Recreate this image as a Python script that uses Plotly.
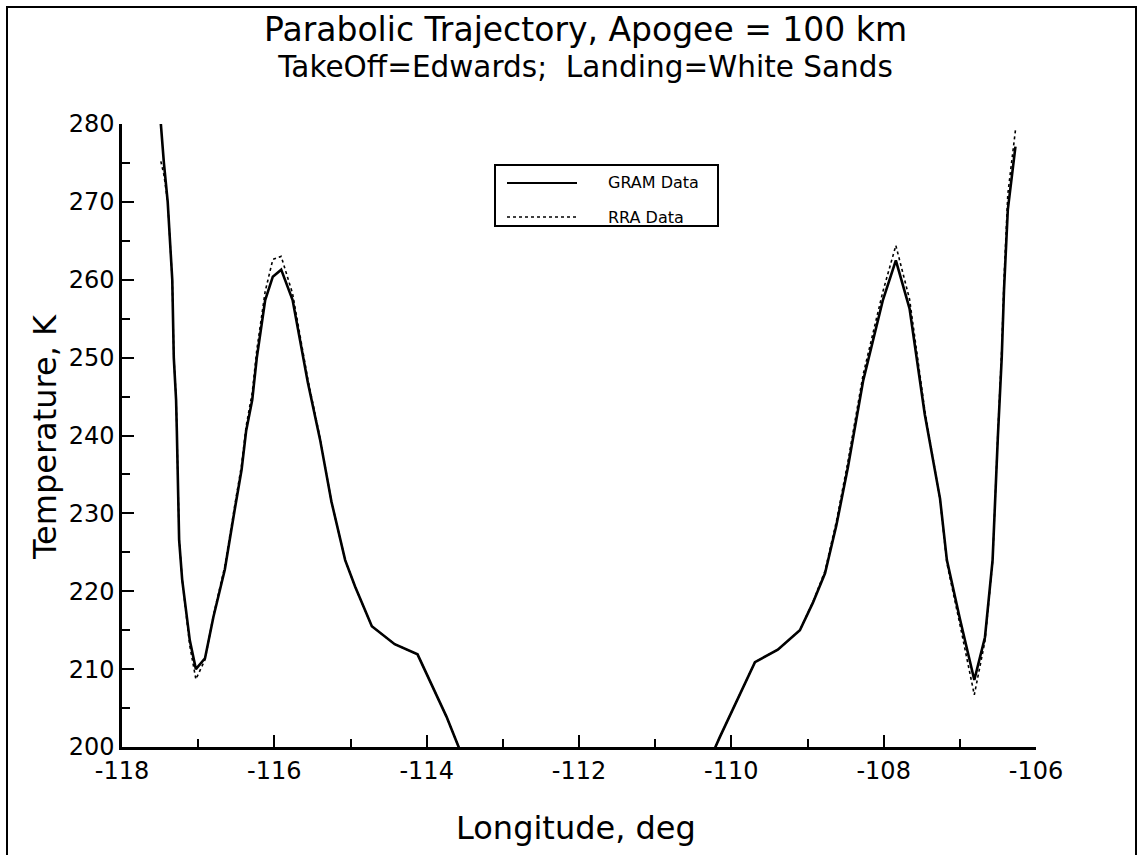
import plotly.graph_objects as go

# ---- data ----
lon_left = [-117.49, -117.45, -117.40, -117.34, -117.32, -117.29, -117.28, -117.25, -117.21,
            -117.11, -117.03, -116.91, -116.80, -116.65, -116.52, -116.43, -116.37, -116.29,
            -116.23, -116.12, -116.02, -115.91, -115.76, -115.56, -115.40, -115.25, -115.07,
            -114.94, -114.72, -114.42, -114.12, -113.74, -113.58, -113.45]
gram_left = [280.0, 275.0, 270.0, 260.0, 250.0, 244.6, 240.6, 226.6, 221.5,
             213.7, 210.0, 211.4, 216.7, 222.8, 230.5, 235.6, 240.6, 244.6,
             250.0, 257.4, 260.4, 261.3, 257.4, 246.8, 239.5, 231.5, 224.0,
             220.6, 215.5, 213.2, 211.9, 203.9, 200.0, 197.0]
rra_left = [275.2, 273.5, 270.0, 260.0, 250.2, 244.8, 240.8, 226.8, 221.5,
            213.0, 208.7, 211.2, 216.9, 223.2, 231.0, 236.2, 241.2, 245.5,
            251.0, 258.5, 262.6, 263.0, 258.2, 247.2, 239.7, 231.5, 224.0,
            220.6, 215.5, 213.2, 211.9, 203.9, 200.0, 197.0]

lon_right = [-110.30, -110.15, -109.69, -109.39, -109.10, -108.93, -108.77, -108.62, -108.47,
             -108.27, -108.01, -107.84, -107.66, -107.46, -107.26, -107.17, -107.00, -106.81,
             -106.67, -106.57, -106.50, -106.45, -106.42, -106.37, -106.27]
gram_right = [198.0, 201.3, 210.9, 212.5, 215.0, 218.5, 222.3, 228.5, 235.9,
              247.0, 257.4, 262.5, 256.3, 242.7, 231.9, 224.0, 216.5, 208.6,
              214.1, 224.0, 240.0, 250.0, 258.7, 269.0, 277.1]
rra_right = [198.0, 201.3, 210.9, 212.5, 215.0, 218.6, 222.6, 229.0, 236.6,
             247.8, 258.5, 264.4, 257.5, 243.2, 231.8, 223.6, 215.8, 206.7,
             213.6, 223.8, 240.5, 251.0, 260.0, 271.0, 279.2]

series_names = ["GRAM Data", "RRA Data"]
title_lines = ["Parabolic Trajectory, Apogee = 100 km", "TakeOff=Edwards;  Landing=White Sands"]
x_title = "Longitude, deg"
y_title = "Temperature, K"
x_tick_vals = [-118, -116, -114, -112, -110, -108, -106]
x_tick_labels = ["-118", "-116", "-114", "-112", "-110", "-108", "-106"]
x_range = [-118, -106]
y_range = [200, 280]

# ---- layout geometry (pixels) ----
W, H = 1142, 855
L, R, T, B = 122, 1036, 124, 747
def px(x):
    return (x - L) / (R - L)
def py(y):
    return (B - y) / (B - T)

FONT = "DejaVu Sans"

lon_all = lon_left + [None] + lon_right
gram_all = gram_left + [None] + gram_right
rra_all = rra_left + [None] + rra_right

fig = go.Figure()
fig.add_trace(go.Scatter(x=lon_all, y=gram_all, mode="lines", name=series_names[0],
                         line=dict(color="black", width=2.6), connectgaps=False))
fig.add_trace(go.Scatter(x=lon_all, y=rra_all, mode="lines", name=series_names[1],
                         line=dict(color="black", width=1.6, dash="dot"), connectgaps=False))

axis_common = dict(showline=True, linecolor="black", linewidth=2.5, showgrid=False,
                   zeroline=False, ticks="inside", tickcolor="black", tickwidth=1.5,
                   tickfont=dict(family=FONT, size=24, color="black"))

fig.update_xaxes(range=x_range, tickmode="array", tickvals=x_tick_vals, ticktext=x_tick_labels,
                 ticklen=12,
                 minor=dict(ticks="inside", tickmode="linear", tick0=-118, dtick=1, ticklen=8,
                            tickcolor="black", tickwidth=1.5),
                 **axis_common)
fig.update_yaxes(range=y_range, dtick=10, tick0=200, ticklen=12,
                 minor=dict(ticks="inside", dtick=5, ticklen=8, tickcolor="black", tickwidth=1.5),
                 **axis_common)

title_text = ('<span style="font-size:33px">' + title_lines[0] + '</span><br>'
              '<span style="font-size:29.5px">' + title_lines[1] + '</span>')

ann = []
ann.append(dict(x=px(585), y=py(47), xref="paper", yref="paper", text=title_text,
                showarrow=False, xanchor="center", yanchor="middle", align="center",
                font=dict(family=FONT, size=28, color="black")))
ann.append(dict(x=px(576), y=py(828), xref="paper", yref="paper", text=x_title,
                showarrow=False, xanchor="center", yanchor="middle",
                font=dict(family=FONT, size=32, color="black")))
ann.append(dict(x=px(45), y=py(437), xref="paper", yref="paper", text=y_title,
                showarrow=False, xanchor="center", yanchor="middle", textangle=-90,
                font=dict(family=FONT, size=32, color="black")))
# legend text
ann.append(dict(x=px(606), y=py(183), xref="paper", yref="paper", text=series_names[0],
                showarrow=False, xanchor="left", yanchor="middle",
                font=dict(family=FONT, size=16, color="black")))
ann.append(dict(x=px(606), y=py(217), xref="paper", yref="paper", text=series_names[1],
                showarrow=False, xanchor="left", yanchor="middle",
                font=dict(family=FONT, size=16, color="black")))

shapes = []
# outer frame (bottom edge falls just outside the page, as in the reference)
shapes.append(dict(type="rect", xref="paper", yref="paper", x0=px(7), x1=px(1136), y0=py(860), y1=py(7),
                   line=dict(color="black", width=2), fillcolor="rgba(0,0,0,0)", layer="below"))
# legend box and samples
shapes.append(dict(type="rect", xref="paper", yref="paper", x0=px(495), x1=px(718), y0=py(226), y1=py(165),
                   line=dict(color="black", width=2), fillcolor="white"))
shapes.append(dict(type="line", xref="paper", yref="paper", x0=px(507), x1=px(577), y0=py(183), y1=py(183),
                   line=dict(color="black", width=2)))
shapes.append(dict(type="line", xref="paper", yref="paper", x0=px(507), x1=px(577), y0=py(217), y1=py(217),
                   line=dict(color="black", width=1.6, dash="dot")))

fig.update_layout(width=W, height=H, autosize=False,
                  margin=dict(l=L, r=W - R, t=T, b=H - B),
                  paper_bgcolor="white", plot_bgcolor="white",
                  showlegend=False, annotations=ann, shapes=shapes,
                  font=dict(family=FONT, color="black"))

fig.write_html("out.html")
